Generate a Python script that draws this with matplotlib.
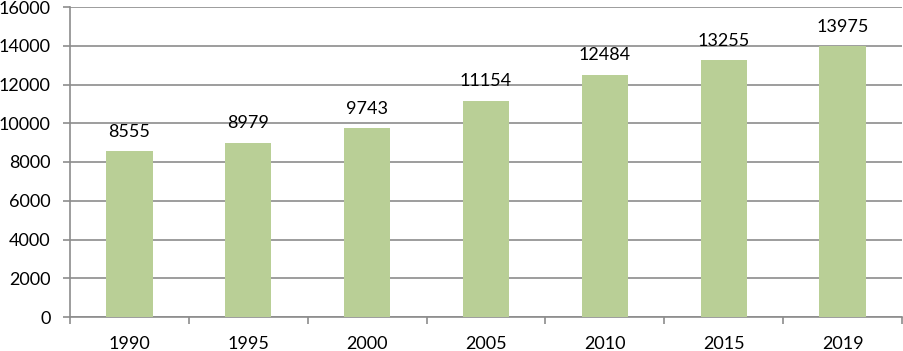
import matplotlib.pyplot as plt
import numpy as np

years = ['1990', '1995', '2000', '2005', '2010', '2015', '2019']
values = [8555, 8979, 9743, 11154, 12484, 13255, 13975]

plt.rcParams['font.family'] = ['Lato', 'DejaVu Sans']

fig = plt.figure(figsize=(9.04, 3.51), dpi=100)
ax = fig.add_axes([70 / 904, 1 - 317 / 351, 832 / 904, 310 / 351])

x = np.arange(len(years))
ax.bar(x, values, width=0.39, color='#b9cf96', zorder=3)

for xi, v in zip(x, values):
    ax.text(xi, v + 600, str(v), ha='center', va='bottom', fontsize=13, color='black')

ax.set_xlim(-0.5, len(years) - 0.5)
ax.set_ylim(0, 16000)
ax.set_yticks(np.arange(0, 16001, 2000))
ax.yaxis.grid(True, color='#8c8c8c', linewidth=1.2, zorder=0)

# x ticks sit between categories, labels at the centres
ax.set_xticks(np.arange(-0.5, len(years), 1.0))
ax.set_xticklabels([])
ax.set_xticks(x, minor=True)
ax.set_xticklabels(years, minor=True, fontsize=13)
ax.tick_params(axis='x', which='minor', length=0, pad=14)
ax.tick_params(axis='x', which='major', length=5, width=1.2, color='#8c8c8c')
ax.tick_params(axis='y', length=5, width=1.2, color='#8c8c8c', labelsize=13, pad=9)

for side in ['top', 'right']:
    ax.spines[side].set_visible(False)
for side in ['left', 'bottom']:
    ax.spines[side].set_color('#8c8c8c')
    ax.spines[side].set_linewidth(1.2)

fig.savefig('out.png', dpi=100)
